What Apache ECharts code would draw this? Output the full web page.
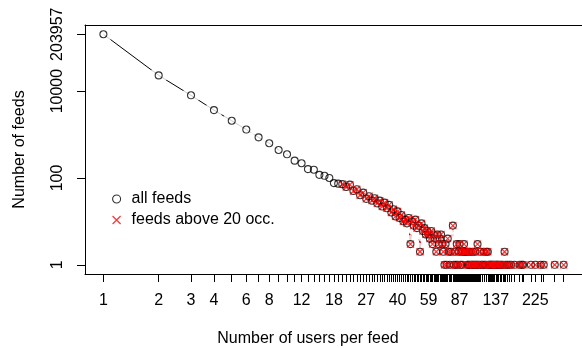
<!DOCTYPE html>
<html>
<head>
<meta charset="utf-8">
<script src="https://cdn.jsdelivr.net/npm/echarts@6/dist/echarts.min.js"></script>
<style>html,body{margin:0;padding:0;background:#fff}#c{width:582px;height:348px}</style>
</head>
<body>
<div id="c"></div>
<script>
// Number of users per feed (unique values) and number of feeds with that many users
const usersPerFeed = [1,2,3,4,5,6,7,8,9,10,11,12,13,14,15,16,17,18,19,
  20,21,22,23,24,25,26,27,28,29,30,31,32,33,34,35,36,37,38,39,
  40,41,42,43,44,45,46,47,48,49,50,51,52,53,54,55,56,57,58,59,
  60,61,62,63,64,65,66,67,68,69,70,71,72,73,74,75,76,77,78,80,
  81,82,83,84,85,86,87,88,89,90,91,92,93,94,95,96,97,98,99,100,
  101,102,103,104,105,106,107,108,109,110,112,113,115,116,118,119,121,122,124,125,
  127,128,130,131,133,135,137,139,140,142,145,147,150,153,155,158,162,166,173,185,
  190,193,213,225,241,250,287,321];
const numFeeds = [203957,23000,8000,3650,2075,1300,860,630,440,350,250,218,160,155,118,112,100,76,74,
  72,62,70,50,55,40,46,33,38,30,34,26,30,22,27,20,24,16,19,13,
  17,12,14,10,11,9,12,3,10,8,11,7,8,2,9,6,7,5,6,5,
  4,6,3,5,4,2,5,3,4,5,3,2,1,3,1,4,2,1,2,8,
  1,2,1,3,1,2,3,1,2,1,2,3,2,2,2,1,1,2,1,2,
  1,1,2,1,1,2,1,1,3,1,1,2,1,1,2,1,1,2,2,1,
  1,1,1,1,1,1,1,1,1,1,1,1,1,2,1,1,1,1,1,1,
  1,1,1,1,1,1,1,1];
// feeds above 20 occurrences start at this users-per-feed value
const occThreshold = 20;
const xTickLabels = [1,2,3,4,6,8,12,18,27,40,59,87,137,225];
const yTickLabels = [1,100,10000,203957];

const allPts = usersPerFeed.map((x,i)=>[x,numFeeds[i]]);
const redPts = allPts.filter(p=>p[0]>=occThreshold);

const FONT = 'Liberation Sans, Arial, Helvetica, sans-serif';
const FS = 16;
const chart = echarts.init(document.getElementById('c'), null, {renderer:'canvas'});
const fmt = v => String(Math.round(v));
chart.setOption({
  animation:false,
  backgroundColor:'#fff',
  textStyle:{fontFamily:FONT},
  grid:{left:85, top:25, width:500, height:249, containLabel:false},
  title:{text:'Number of users per feed', left:308, top:331, textAlign:'center', padding:0,
    textStyle:{fontFamily:FONT, fontSize:FS, fontWeight:'normal', color:'#000'}},
  legend:{orient:'vertical', left:107, top:186, itemWidth:8, itemHeight:8, itemGap:5,
    textStyle:{fontFamily:FONT, fontSize:FS, color:'#000', lineHeight:15, padding:[0,0,0,6]},
    data:[{name:'all feeds', icon:'circle', itemStyle:{color:'transparent', borderColor:'#000', borderWidth:1.1}},
          {name:'feeds above 20 occ.', icon:'path://M0,0L10,10M10,0L0,10', itemStyle:{color:'transparent', borderColor:'#ff0000', borderWidth:1.2}}]},
  xAxis:[{type:'log', logBase:10, min:0.794, max:404, position:'bottom', z:10,
    axisLine:{show:true, onZero:false, lineStyle:{color:'#000', width:1}},
    axisTick:{show:true, length:8, lineStyle:{color:'#000', width:1}, customValues:usersPerFeed},
    axisLabel:{show:true, margin:19, fontSize:FS, color:'#000', fontFamily:FONT, customValues:xTickLabels, formatter:fmt, hideOverlap:false},
    splitLine:{show:false}, minorTick:{show:false}},
   {type:'log', logBase:10, min:0.794, max:404, position:'top', z:10,
    axisLine:{show:true, onZero:false, lineStyle:{color:'#000', width:1}},
    axisTick:{show:false}, axisLabel:{show:false}, splitLine:{show:false}}],
  yAxis:{type:'log', logBase:10, min:0.614, max:332600, z:10,
    name:'Number of feeds', nameLocation:'middle', nameGap:57, nameRotate:90,
    nameTextStyle:{fontSize:FS, color:'#000', fontFamily:FONT},
    axisLine:{show:true, onZero:false, lineStyle:{color:'#000', width:1}},
    axisTick:{show:true, length:8, lineStyle:{color:'#000', width:1}, customValues:yTickLabels},
    axisLabel:{show:true, rotate:90, margin:19, fontSize:FS, color:'#000', fontFamily:FONT, customValues:yTickLabels, formatter:fmt},
    splitLine:{show:false}},
  series:[
    {name:'lineAll', type:'line', data:allPts, symbol:'none', z:1, silent:true,
      lineStyle:{color:'#000', width:1}},
    {name:'lineRed', type:'line', data:redPts, symbol:'none', z:2, silent:true,
      lineStyle:{color:'#ff0000', width:1}},
    {name:'gaps', type:'scatter', data:allPts, symbol:'circle', symbolSize:18, z:3, silent:true,
      itemStyle:{color:'#fff', borderWidth:0}},
    {name:'all feeds', type:'scatter', data:allPts, symbol:'circle', symbolSize:7, z:4,
      itemStyle:{color:'transparent', borderColor:'#000', borderWidth:1.1}},
    {name:'feeds above 20 occ.', type:'scatter', data:redPts, symbol:'path://M0,0L10,10M10,0L0,10', symbolSize:7, z:5,
      itemStyle:{color:'transparent', borderColor:'#ff0000', borderWidth:1.2}}
  ]
});
</script>
</body>
</html>
